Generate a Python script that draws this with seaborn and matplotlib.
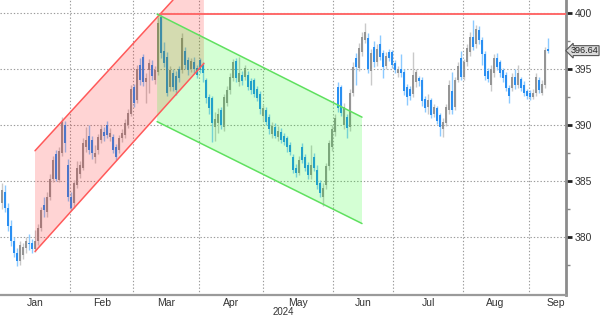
import numpy as np
import pandas as pd
import matplotlib
matplotlib.use("Agg")
import matplotlib.pyplot as plt
import seaborn as sns

# ---------------- data ----------------
opens = [383.0,384.0,382.6,381.0,379.6,378.6,377.9,378.4,379.0,379.5,379.5,378.9,379.6,380.8,382.9,382.2,383.6,385.2,387.4,385.1,
         387.5,390.0,386.4,383.6,383.0,384.6,385.6,386.2,388.0,389.0,388.7,387.1,387.8,388.7,389.4,390.0,388.9,388.9,388.0,387.8,
         388.8,389.1,390.0,391.0,393.4,392.2,395.4,396.1,393.8,394.9,395.4,394.0,394.7,399.6,396.6,396.1,393.4,394.6,394.4,395.0,
         394.9,396.6,395.8,395.0,395.6,395.1,395.8,395.4,394.0,392.5,392.4,389.8,390.2,391.3,389.8,392.0,393.1,394.2,395.7,393.8,
         394.5,394.3,394.5,393.9,394.0,393.2,392.8,390.8,391.3,390.7,389.2,389.8,388.9,389.4,389.0,388.8,388.2,387.1,386.2,385.7,
         388.0,387.1,386.4,385.5,387.1,386.0,384.8,383.6,384.6,386.3,388.0,389.4,393.4,393.4,390.0,390.7,389.8,392.9,396.0,395.1,
         396.5,397.6,397.8,394.8,397.0,395.6,397.2,396.4,395.3,396.5,396.5,395.5,394.6,395.0,394.7,393.4,393.2,392.8,393.8,394.2,
         394.0,392.3,391.6,392.2,391.0,391.5,390.9,389.6,390.2,391.3,393.0,391.6,394.0,396.0,394.3,395.6,396.5,397.9,397.2,398.5,
         397.6,396.3,394.8,393.6,394.6,396.0,395.6,394.9,394.5,393.3,393.3,394.3,393.6,394.1,393.6,393.0,392.9,392.5,392.9,394.0,
         392.9,393.6,396.8]
highs = [384.8,384.6,383.0,381.5,380.0,379.0,379.6,379.5,380.0,380.3,379.8,380.6,381.2,382.7,383.6,384.0,385.6,387.2,387.8,388.0,
         390.7,390.4,387.0,384.0,385.1,386.8,386.8,388.8,389.8,390.0,389.0,388.2,389.2,390.0,389.8,390.4,389.7,389.2,388.3,389.1,
         389.6,390.5,391.4,393.6,393.7,395.4,396.0,396.3,394.6,395.9,395.8,395.3,399.6,400.0,397.4,396.5,395.3,395.0,394.8,395.3,
         398.2,397.0,396.1,396.0,396.1,395.4,396.0,395.6,394.2,392.8,392.6,391.2,391.5,391.6,392.8,393.5,394.6,395.9,396.0,396.1,
         394.8,395.4,394.8,394.2,394.2,393.5,393.0,391.8,391.6,391.0,390.3,390.2,389.9,389.7,389.3,389.0,388.5,387.4,386.5,387.2,
         388.4,387.4,386.7,388.2,387.5,386.4,385.1,384.8,386.6,388.7,390.0,391.0,393.8,393.6,392.0,391.0,393.2,395.6,396.4,397.3,
         398.3,399.1,398.2,396.8,397.5,397.2,398.0,396.7,396.5,396.8,396.7,395.8,395.3,396.3,395.0,393.7,393.5,396.5,395.0,394.4,
         394.3,392.6,392.8,392.4,391.9,391.7,391.1,390.6,391.9,394.0,394.7,394.3,395.6,396.6,395.9,397.2,398.3,399.4,398.9,398.8,
         397.9,396.6,395.1,395.4,396.3,396.4,395.8,395.1,394.7,393.6,394.6,395.0,395.4,394.3,393.9,393.2,393.1,393.2,394.6,394.3,
         394.0,397.0,397.8]
lows = [382.5,382.2,380.5,379.2,378.2,377.4,377.5,378.0,378.6,378.8,378.6,378.7,379.3,380.5,381.8,381.8,383.3,384.9,385.0,384.9,
        387.2,387.6,383.2,382.4,382.6,384.4,385.3,386.0,387.6,387.4,387.0,386.6,387.4,388.4,388.6,388.8,388.6,387.5,386.9,387.5,
        388.5,388.8,389.7,390.8,391.6,392.0,393.6,393.5,392.0,392.9,394.0,393.7,394.5,396.0,395.2,392.6,393.0,393.0,392.7,393.8,
        394.6,395.0,394.5,394.7,394.6,394.2,394.6,393.8,392.0,391.0,388.5,388.6,389.3,389.6,389.5,391.7,392.8,393.9,393.8,393.5,
        393.6,394.0,393.1,392.8,392.5,392.1,391.0,390.4,390.0,389.2,388.8,388.8,388.6,388.4,388.2,387.6,387.3,385.7,385.4,385.5,
        386.6,385.9,385.2,385.2,385.9,384.3,383.6,382.8,384.3,386.0,387.7,389.0,391.2,390.8,389.6,388.8,389.5,392.6,393.6,394.8,
        396.2,397.3,394.6,393.6,395.2,395.3,395.8,394.2,395.0,395.7,395.1,394.6,394.3,394.3,392.7,391.8,392.2,392.5,393.4,393.5,
        391.7,391.2,391.0,390.6,390.7,390.1,389.0,388.9,389.9,391.0,391.0,391.3,393.8,394.0,394.0,395.3,396.2,396.7,396.9,397.2,
        395.4,394.0,393.8,393.0,394.3,394.9,394.3,393.8,393.0,392.0,393.0,393.2,393.3,393.0,392.6,392.3,392.2,392.3,392.6,392.9,
        392.7,393.3,396.4]
closes = [384.2,382.6,381.0,379.6,378.6,377.9,379.3,379.1,379.6,379.4,378.9,379.6,380.8,382.4,382.4,383.6,385.2,386.9,385.2,387.7,
          390.3,388.4,383.6,382.6,384.8,386.2,386.4,388.4,388.7,387.8,387.5,387.5,388.9,389.6,389.0,389.1,389.3,387.8,387.1,388.8,
          389.3,390.2,391.1,393.2,392.0,395.0,394.0,393.8,394.2,395.5,394.4,394.9,399.1,396.4,395.5,392.9,394.9,393.4,393.1,394.2,
          397.8,395.4,394.9,395.7,395.0,394.5,394.9,394.6,392.4,391.5,390.2,390.5,391.0,390.0,392.5,393.1,394.3,395.6,394.2,394.6,
          393.9,395.1,393.4,393.1,392.8,392.4,391.4,391.5,390.3,389.6,389.9,389.0,389.5,388.7,388.5,388.0,387.6,386.0,385.7,386.9,
          386.9,386.2,385.5,386.4,386.2,384.6,383.9,384.4,386.3,388.4,389.6,390.6,391.5,391.1,391.6,389.7,392.9,395.2,395.2,396.9,
          397.9,398.3,395.0,396.4,395.6,396.8,396.1,395.2,396.2,396.0,395.4,394.9,395.0,394.6,393.0,392.5,392.6,394.5,394.7,393.9,
          392.1,391.5,392.2,390.9,391.6,390.4,389.8,390.3,391.6,393.6,391.3,394.0,395.3,394.3,395.6,396.9,397.9,397.0,398.6,397.6,
          396.3,394.4,394.1,395.0,396.0,395.2,394.6,394.2,393.3,392.6,394.3,393.6,394.6,393.3,392.9,392.6,392.5,392.9,394.3,393.1,
          393.7,396.7,396.64]

month_labels = ["Jan", "Feb", "Mar", "Apr", "May", "Jun", "Jul", "Aug", "Sep"]
month_label_pos = [11.1, 33.3, 54.7, 76.3, 98.5, 120.3, 142.0, 164.5, 184.7]
month_bounds = [22.8, 43.7, 65.7, 87.0, 110.3, 130.3, 153.7, 175.7]
year_label = "2024"

y_ticks = [380, 385, 390, 395, 400]
y_minor = [377.5, 382.5, 387.5, 392.5, 397.5]

# annotation channels (index, price)
red_upper = ([11.0, 57.0], [387.7, 401.16])
red_lower = ([11.0, 67.3], [378.7, 395.5])
green_upper = ([51.7, 120.0], [399.9, 390.7])
green_lower = ([51.7, 120.0], [390.3, 381.2])
resistance = 399.9
resistance_start = 52.7
last_price = 396.64

# ---------------- figure ----------------
sns.set_theme(style="white")
plt.rcParams['font.family'] = ['Liberation Sans', 'DejaVu Sans']

df = pd.DataFrame({"open": opens, "high": highs, "low": lows, "close": closes})
df["x"] = np.arange(len(df))
df["up"] = df["close"] >= df["open"]

fig = plt.figure(figsize=(6.0, 3.16), dpi=100)
ax = fig.add_axes([0.0, 21/316, 566/600, 295/316])

XMIN, XMAX = -0.67, 188.0
YMIN, YMAX = 374.82, 401.16
ax.set_xlim(XMIN, XMAX)
ax.set_ylim(YMIN, YMAX)

# grid
for b in month_bounds:
    ax.axvline(b, color="#9a9a9a", lw=0.8, ls=(0, (1.2, 1.8)), zorder=1)
for t in y_ticks:
    ax.axhline(t, color="#9a9a9a", lw=0.8, ls=(0, (1.2, 1.8)), zorder=1)

# candles
up_body, up_wick = "#959595", "#c9c9c9"
dn_body, dn_wick = "#2a8ff2", "#8ccaff"
wick_colors = np.where(df["up"], up_wick, dn_wick)
body_colors = np.where(df["up"], up_body, dn_body)
ax.vlines(df["x"], df["low"], df["high"], colors=wick_colors, lw=1.0, zorder=2)
body_low = np.minimum(df["open"], df["close"])
body_h = np.maximum(np.abs(df["close"] - df["open"]), 0.1)
ax.bar(df["x"], body_h, bottom=body_low, width=0.72, color=body_colors, linewidth=0, zorder=2.5)

# red channel fill
ax.fill([red_upper[0][0], red_upper[0][1], red_lower[0][1], red_lower[0][1], red_lower[0][0]],
        [red_upper[1][0], red_upper[1][1], red_upper[1][1], red_lower[1][1], red_lower[1][0]],
        color=(1.0, 0.0, 0.0), alpha=0.17, lw=0, zorder=3)
# green channel fill
ax.fill([green_upper[0][0], green_upper[0][1], green_lower[0][1], green_lower[0][0]],
        [green_upper[1][0], green_upper[1][1], green_lower[1][1], green_lower[1][0]],
        color=(0.0, 1.0, 0.0), alpha=0.17, lw=0, zorder=3.1)

red_c = "#ff5a5a"
green_c = "#5fe05f"
ax.plot(red_upper[0], red_upper[1], color=red_c, lw=1.1, zorder=4)
ax.plot(red_lower[0], red_lower[1], color=red_c, lw=1.1, zorder=4)
ax.plot(green_upper[0], green_upper[1], color=green_c, lw=1.1, zorder=4)
ax.plot(green_lower[0], green_lower[1], color=green_c, lw=1.1, zorder=4)
res_df = pd.DataFrame({"x": [resistance_start, XMAX], "y": [resistance, resistance]})
sns.lineplot(data=res_df, x="x", y="y", ax=ax, color="#ff6a6a", lw=1.4, zorder=4)

# axes styling
for s in ["top", "left"]:
    ax.spines[s].set_visible(False)
ax.spines["right"].set_color("#8c8c8c")
ax.spines["right"].set_linewidth(2.0)
ax.spines["bottom"].set_color("#9a9a9a")
ax.spines["bottom"].set_linewidth(1.6)
ax.set_xlabel("")
ax.set_ylabel("")

ax.yaxis.tick_right()
ax.set_yticks(y_ticks)
ax.set_yticklabels([str(t) for t in y_ticks])
ax.set_yticks(y_minor, minor=True)
ax.tick_params(axis="y", which="major", direction="out", length=4, width=2, color="#222222",
               labelsize=7.5, labelcolor="#333333", pad=2)
ax.tick_params(axis="y", which="minor", direction="out", length=3, width=1, color="#888888")

ax.set_xticks(month_bounds)
ax.set_xticklabels([])
ax.set_xticks(month_label_pos, minor=True)
ax.set_xticklabels(month_labels, minor=True)
ax.tick_params(axis="x", which="major", direction="out", length=3, width=1, color="#666666")
ax.tick_params(axis="x", which="minor", length=0, labelsize=7.5, labelcolor="#333333", pad=2)
ax.text(93.7, -0.042, year_label, transform=ax.get_xaxis_transform(), ha="center", va="top",
        fontsize=7, color="#333333")

# last price tag
ax.annotate(f"{last_price:.2f}", xy=(1.0, last_price), xycoords=("axes fraction", "data"),
            xytext=(3.5, 0), textcoords="offset points", ha="left", va="center",
            fontsize=6.6, color="#222222",
            bbox=dict(boxstyle="larrow,pad=0.05", fc="#d9d9d9", ec="#555555", lw=0.8),
            annotation_clip=False, zorder=6)

fig.savefig("out.png", dpi=100)
